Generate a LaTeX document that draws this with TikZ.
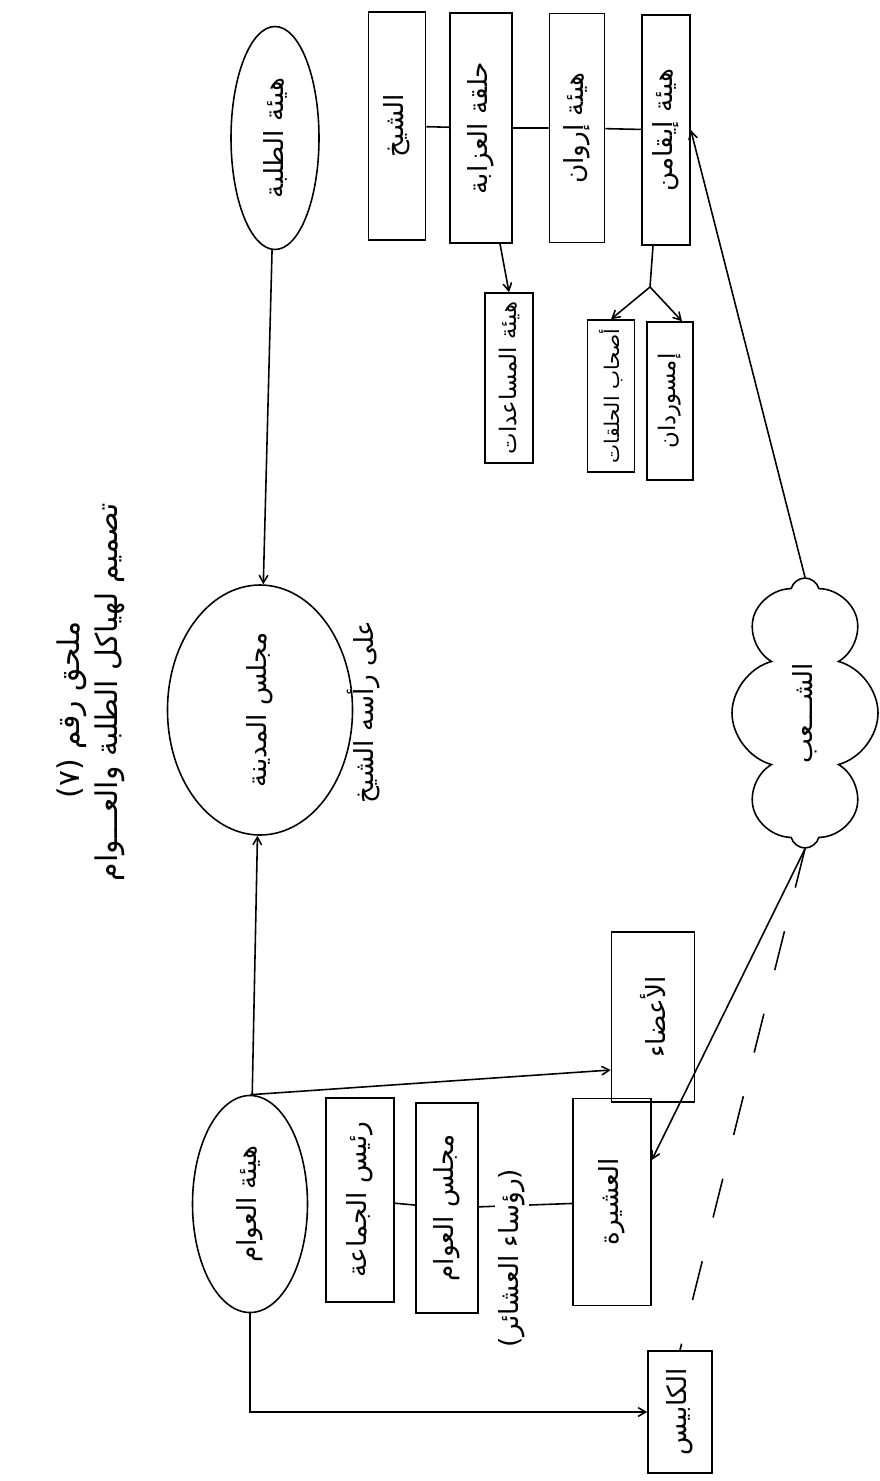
\documentclass[tikz,border=0pt]{standalone}
\usepackage{fontspec}
\newfontfamily\arabicfont[Script=Arabic]{DejaVu Sans}
\TeXXeTstate=1
\usetikzlibrary{arrows,shapes.geometric,shapes.symbols}
\newcommand{\artext}[1]{{\arabicfont\beginR #1\endR}}

\begin{document}
\begin{tikzpicture}[x=0.2mm,y=-0.2mm,>=angle 60,line width=0.9pt,
  every node/.style={font=\fontsize{15}{17}\selectfont,rotate=90,inner sep=0pt},
  box/.style={draw,rectangle},
  smallbox/.style={box,font=\fontsize{13}{15}\selectfont},
  oval/.style={draw,ellipse},
  crowd/.style={draw,cloud,cloud puffs=8,cloud ignores aspect},
  heading/.style={font=\fontsize{17}{19}\selectfont}]
  \useasboundingbox (0,0) rectangle (880,1481);

  \node[heading]                                                (title)      at (72,710)    {\artext{ملحق رقم (٧)}};
  \node[heading]                                                (subtitle)   at (110,692)   {\artext{تصميم لهياكل الطلبة والعـــوام}};

  \node[oval, minimum width=4.46cm, minimum height=1.76cm]      (talaba)     at (275,138)   {\artext{هيئة الطلبة}};
  \node[box,  minimum width=4.56cm, minimum height=1.14cm]      (sheikh)     at (397,126)   {\artext{الشيخ}};
  \node[box,  minimum width=4.60cm, minimum height=1.24cm]      (halqa)      at (481,128)   {\artext{حلقة العزابة}};
  \node[box,  minimum width=4.58cm, minimum height=1.10cm]      (irwan)      at (577,128)   {\artext{هيئة إروان}};
  \node[box,  minimum width=4.60cm, minimum height=0.96cm]      (iqamen)     at (666,130)   {\artext{هيئة إيقامن}};
  \node[smallbox, minimum width=3.40cm, minimum height=0.96cm]  (musa)       at (509,378)   {\artext{هيئة المساعدات}};
  \node[smallbox, font=\fontsize{11.5}{13}\selectfont,
        minimum width=3.04cm, minimum height=0.94cm]            (ashab)      at (611,396)   {\artext{أصحاب الحلقات}};
  \node[smallbox, minimum width=3.16cm, minimum height=0.92cm]  (imsurdan)   at (670,401)   {\artext{إمسوردان}};
  \coordinate                                                  (fork)       at (650,287);

  \node[oval, minimum width=5.00cm, minimum height=3.70cm]      (majlis)     at (260,710)   {\artext{مجلس المدينة}};
  \node                                                        (head)       at (364,712)   {\artext{على رأسه الشيخ}};
  \node[crowd, minimum width=5.40cm, minimum height=2.92cm]     (shaab)      at (805,713)   {\artext{الشـــعب}};

  \node[box,  minimum width=3.40cm, minimum height=1.66cm]      (a3da2)      at (653,1017)  {\artext{الأعضاء}};
  \node[oval, minimum width=4.34cm, minimum height=2.30cm]      (awam)       at (250,1204)  {\artext{هيئة العوام}};
  \node[box,  minimum width=4.08cm, minimum height=1.36cm]      (raees)      at (360,1200)  {\artext{رئيس الجماعة}};
  \node[box,  minimum width=4.20cm, minimum height=1.24cm]      (majlisawam) at (447,1208)  {\artext{مجلس العوام}};
  \node[box,  minimum width=4.14cm, minimum height=1.56cm]      (ashira)     at (612,1202)  {\artext{العشيرة}};
  \node[box,  minimum width=2.44cm, minimum height=1.28cm]      (kabis)      at (680,1412)  {\artext{الكابيس}};

  \draw (sheikh) -- (halqa) -- (irwan) -- (iqamen);
  \path ([xshift=0.38cm]halqa.west)   edge [->]   (musa.east);
  \draw ([xshift=-0.26cm]iqamen.west) -- (fork);
  \path (fork)     edge [->]                     (ashab.east);
  \path (fork)     edge [->]                     ([xshift=0.24cm]imsurdan.east);

  \path (talaba)   edge [->]                     (majlis);
  \path (awam)     edge [->]                     (majlis);
  \path (awam.east) edge [->]                    ([yshift=-1.06cm]a3da2.north);
  \draw[->] (awam.west) |- (kabis.north);
  \draw (raees) -- (majlisawam) -- (ashira);
  \node[fill=white, inner sep=2pt]                             (ruasa)      at (512,1258)  {\artext{(رؤساء العشائر)}};

  \path (shaab.east) edge [->]                   (iqamen.south);
  \path (shaab.west) edge [->]                   ([yshift=0.84cm]ashira.south);
  \draw[dash pattern=on 0.8cm off 0.9cm] (shaab.west) -- (kabis.east);
\end{tikzpicture}
\end{document}
